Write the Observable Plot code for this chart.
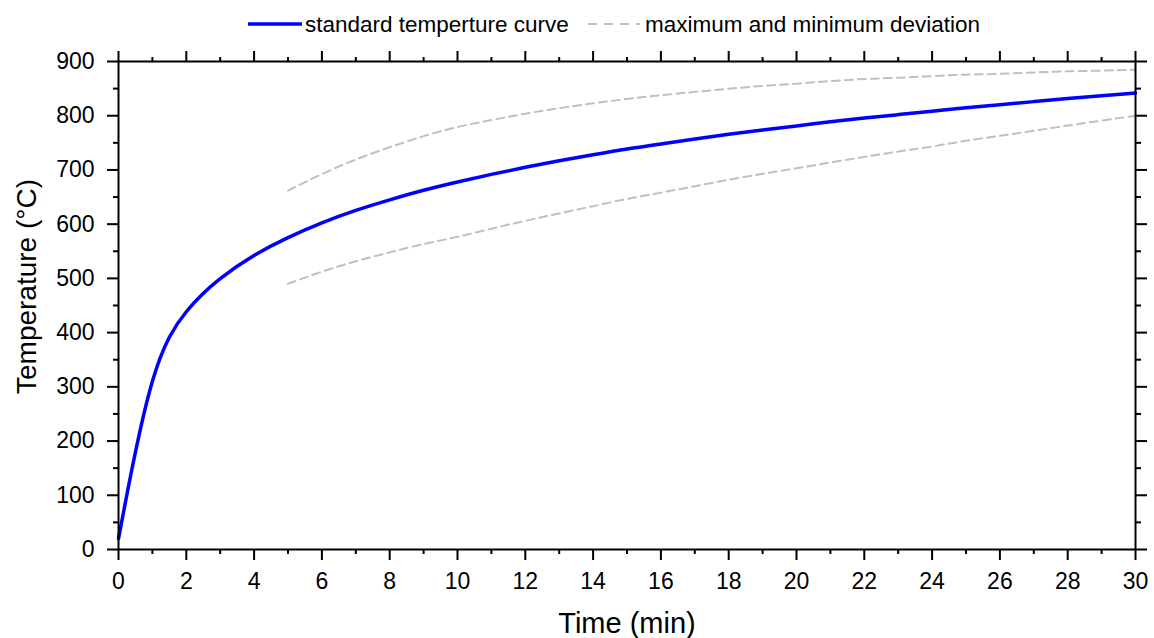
<!DOCTYPE html>
<html>
<head>
<meta charset="utf-8">
<script src="https://cdn.jsdelivr.net/npm/d3@7"></script>
<script src="https://cdn.jsdelivr.net/npm/@observablehq/plot@0.6"></script>
<style>
  html, body { margin: 0; padding: 0; background: #fff; }
  body { width: 1154px; height: 638px; overflow: hidden; font-family: "Liberation Sans", Arial, sans-serif; }
  #legend { display: block; }
</style>
</head>
<body>
<svg id="legend" width="1154" height="48"></svg>
<div id="chart"></div>
<script>
// Standard temperature curve (time in min, temperature in °C)
const stdTime = [0,1,2,3,4,5,6,7,8,9,10,11,12,13,14,15,16,17,18,19,20,21,22,23,24,25,26,27,28,29,30];
const stdTemp = [20,349,445,502,544,576,603,626,645,663,678,692,705,717,728,739,748,757,766,774,781,789,796,802,808,815,820,826,832,837,842];

// Maximum and minimum deviation curves
const devTime = [5,6,7,8,9,10,11,12,13,14,15,16,17,18,19,20,21,22,23,24,25,26,27,28,29,30];
const devMax = [662,693,720,742,763,780,792,804,814,823,831,838,844,850,855,859,864,868,870,873,876,877,880,882,883,885];
const devMin = [490,513,532,548,564,576,592,606,620,633,647,658,670,682,693,703,714,724,734,743,754,763,772,782,791,800];

const xMajor = [0,2,4,6,8,10,12,14,16,18,20,22,24,26,28,30];
const xMinor = [1,3,5,7,9,11,13,15,17,19,21,23,25,27,29];
const yMajor = [0,100,200,300,400,500,600,700,800,900];
const yMinor = [50,150,250,350,450,550,650,750,850];

const legendItems = ["standard temperture curve", "maximum and minimum deviation"];
const xTitle = "Time (min)";
const yTitle = "Temperature (°C)";

const stdData = stdTime.map((t, i) => ({t, v: stdTemp[i]}));
const maxData = devTime.map((t, i) => ({t, v: devMax[i]}));
const minData = devTime.map((t, i) => ({t, v: devMin[i]}));

const FONT = "Liberation Sans, Arial, sans-serif";
const BLUE = "#0000ff";
const GRAY = "#c0c0c0";

// Legend
const lg = d3.select("#legend");
lg.append("line").attr("x1", 248).attr("x2", 302).attr("y1", 24).attr("y2", 24)
  .attr("stroke", BLUE).attr("stroke-width", 3.5);
lg.append("text").attr("x", 305).attr("y", 32).attr("font-family", FONT).attr("font-size", 22.5)
  .attr("fill", "#000").text(legendItems[0]);
lg.append("line").attr("x1", 588).attr("x2", 640).attr("y1", 24).attr("y2", 24)
  .attr("stroke", GRAY).attr("stroke-width", 2).attr("stroke-dasharray", "9,7");
lg.append("text").attr("x", 645).attr("y", 32).attr("font-family", FONT).attr("font-size", 22.5)
  .attr("fill", "#000").text(legendItems[1]);

const common = {strokeWidth: 2, stroke: "black"};

const plot = Plot.plot({
  width: 1154,
  height: 590,
  marginTop: 13,
  marginBottom: 89,
  marginLeft: 118,
  marginRight: 19,
  style: {fontFamily: FONT, background: "white", color: "black"},
  x: {domain: [0, 30]},
  y: {domain: [0, 900]},
  marks: [
    // bottom axis
    Plot.axisX({anchor: "bottom", ticks: xMajor, tickSize: 11, tickPadding: 12, fontSize: 23, label: null, tickFormat: d => String(d), ...common}),
    Plot.axisX({anchor: "bottom", ticks: xMinor, tickSize: 5, fill: "none", label: null, ...common}),
    // top axis
    Plot.axisX({anchor: "top", ticks: xMajor, tickSize: 11, fill: "none", label: null, ...common}),
    Plot.axisX({anchor: "top", ticks: xMinor, tickSize: 5, fill: "none", label: null, ...common}),
    // left axis
    Plot.axisY({anchor: "left", ticks: yMajor, tickSize: 11, tickPadding: 13, fontSize: 23, label: null, tickFormat: d => String(d), ...common}),
    Plot.axisY({anchor: "left", ticks: yMinor, tickSize: 5, fill: "none", label: null, ...common}),
    // right axis
    Plot.axisY({anchor: "right", ticks: yMajor, tickSize: 11, fill: "none", label: null, ...common}),
    Plot.axisY({anchor: "right", ticks: yMinor, tickSize: 5, fill: "none", label: null, ...common}),
    // deviation curves
    Plot.line(maxData, {x: "t", y: "v", stroke: GRAY, strokeWidth: 2, strokeDasharray: "8,5", curve: "basis"}),
    Plot.line(minData, {x: "t", y: "v", stroke: GRAY, strokeWidth: 2, strokeDasharray: "8,5", curve: "basis"}),
    // standard curve
    Plot.line(stdData, {x: "t", y: "v", stroke: BLUE, strokeWidth: 3.5, curve: "basis"}),
    Plot.frame({stroke: "black", strokeWidth: 2}),
    // axis titles
    Plot.text([xTitle], {frameAnchor: "bottom", dy: 83, lineAnchor: "bottom", fontSize: 29, fill: "black"}),
    Plot.text([yTitle], {frameAnchor: "left", textAnchor: "middle", rotate: -90, dx: -91, dy: -19, fontSize: 28, fill: "black"})
  ]
});
document.getElementById("chart").appendChild(plot);
</script>
</body>
</html>
